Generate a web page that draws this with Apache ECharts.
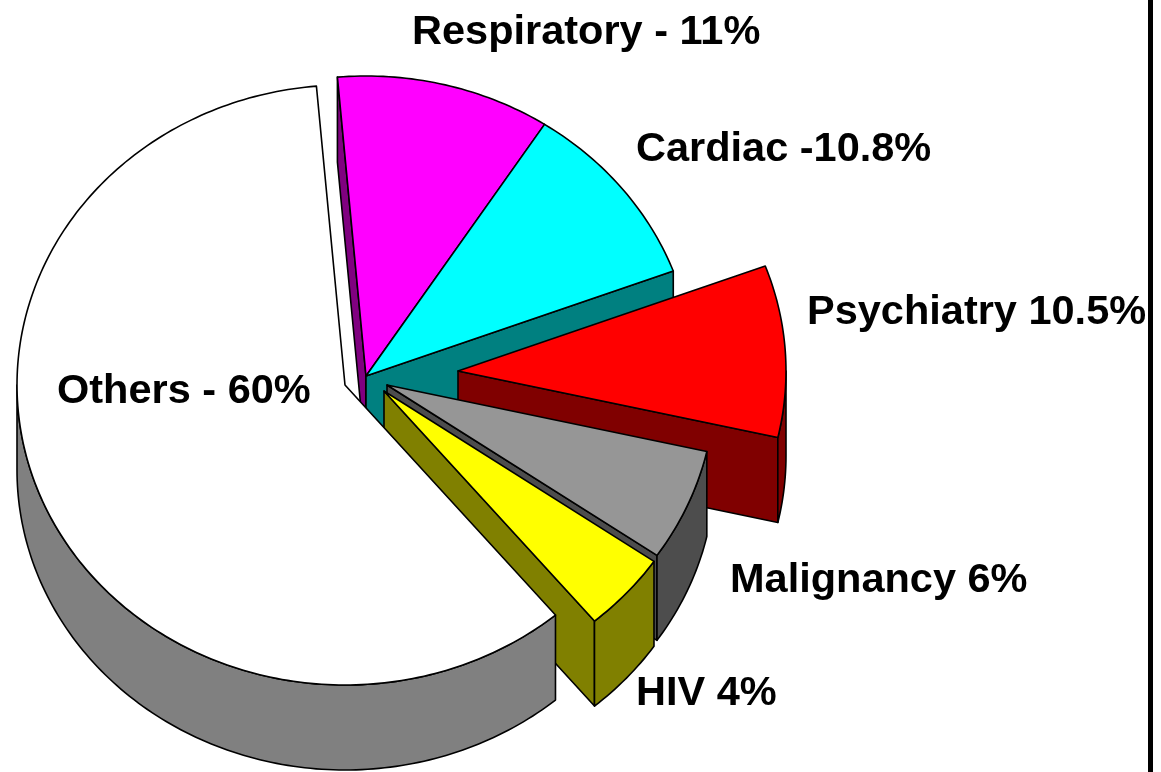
<!DOCTYPE html>
<html><head><meta charset="utf-8">
<style>html,body{margin:0;padding:0;background:#fff}#c{width:1161px;height:772px}</style>
<script src="https://cdn.jsdelivr.net/npm/echarts@6/dist/echarts.min.js"></script>
</head><body><div id="c"></div>
<script>
// Data: slice sizes as read from the drawn wedges, and their printed labels
var categories = ['Respiratory', 'Cardiac', 'Psychiatry', 'Malignancy', 'HIV', 'Others'];
var sliceValues = [10.55, 10.15, 9.25, 6.05, 4.3, 59.7];
var labelTexts = ['Respiratory - 11%', 'Cardiac -10.8%', 'Psychiatry 10.5%', 'Malignancy 6%', 'HIV 4%', 'Others - 60%'];

// Style and layout
var faceColors = ['#ff00ff', '#00ffff', '#ff0000', '#969696', '#ffff00', '#ffffff'];
var wallColors = ['#800080', '#008080', '#800000', '#4d4d4d', '#808000', '#808080'];
var apexes = [[366, 376], [366, 376], [458, 371], [387, 385], [384, 391], [345, 385]];
var labelPos = [[412, 33], [636, 150], [807, 313], [730, 581], [636, 694], [57, 392]];
var START_ANGLE = -5, RX = 328, RY = 300, DEPTH = 85;

var total = sliceValues.reduce(function (a, b) { return a + b; }, 0);
var cum = [0];
sliceValues.forEach(function (v, i) { cum.push(cum[i] + v); });

function rad(d) { return d * Math.PI / 180; }
function rim(ap, a, dy) {
  return [ap[0] + RX * Math.sin(rad(a)), ap[1] - RY * Math.cos(rad(a)) + (dy || 0)];
}
function arc(ap, a0, a1, dy) {
  var pts = [], n = Math.max(2, Math.ceil(Math.abs(a1 - a0)));
  for (var k = 0; k <= n; k++) pts.push(rim(ap, a0 + (a1 - a0) * k / n, dy));
  return pts;
}
function poly(points, fill) {
  return { type: 'polygon', shape: { points: points },
    style: { fill: fill, stroke: '#000', lineWidth: 1.6, lineJoin: 'round' } };
}
function renderItem(params, api) {
  var i = params.dataIndex, ap = apexes[i];
  var a0 = START_ANGLE + 360 * cum[i] / total;
  var a1 = a0 + 360 * api.value(0) / total;
  var kids = [];
  var wall = wallColors[i];
  if (Math.sin(rad(a0)) < 0) {
    var p = rim(ap, a0), q = rim(ap, a0, DEPTH);
    kids.push(poly([ap, p, q, [ap[0], ap[1] + DEPTH]], wall));
  }
  if (Math.sin(rad(a1)) > 0) {
    var p2 = rim(ap, a1), q2 = rim(ap, a1, DEPTH);
    kids.push(poly([ap, p2, q2, [ap[0], ap[1] + DEPTH]], wall));
  }
  var w0 = Math.max(a0, 90), w1 = Math.min(a1, 270);
  if (w1 > w0) {
    kids.push(poly(arc(ap, w0, w1, 0).concat(arc(ap, w1, w0, DEPTH)), wall));
  }
  kids.push(poly([ap].concat(arc(ap, a0, a1, 0)), faceColors[i]));
  return { type: 'group', children: kids };
}
function renderLabel(params) {
  var i = params.dataIndex;
  return { type: 'text', x: labelPos[i][0], y: labelPos[i][1],
    style: { text: labelTexts[i], fill: '#000', align: 'left', verticalAlign: 'middle',
      font: 'bold 41.5px "Liberation Sans", Arial, sans-serif' } };
}
var chart = echarts.init(document.getElementById('c'));
chart.setOption({
  animation: false,
  backgroundColor: '#fff',
  graphic: [{ type: 'rect', z: 10, shape: { x: 1148, y: 0, width: 5, height: 772 }, style: { fill: '#000' } }],
  series: [
    { type: 'custom', coordinateSystem: 'none', silent: true, z: 2,
      data: sliceValues.map(function (v, i) { return { name: categories[i], value: [v] }; }),
      renderItem: renderItem },
    { type: 'custom', coordinateSystem: 'none', silent: true, z: 20,
      data: sliceValues.map(function (v, i) { return { name: categories[i], value: [v] }; }),
      renderItem: renderLabel }
  ]
});
</script></body></html>
